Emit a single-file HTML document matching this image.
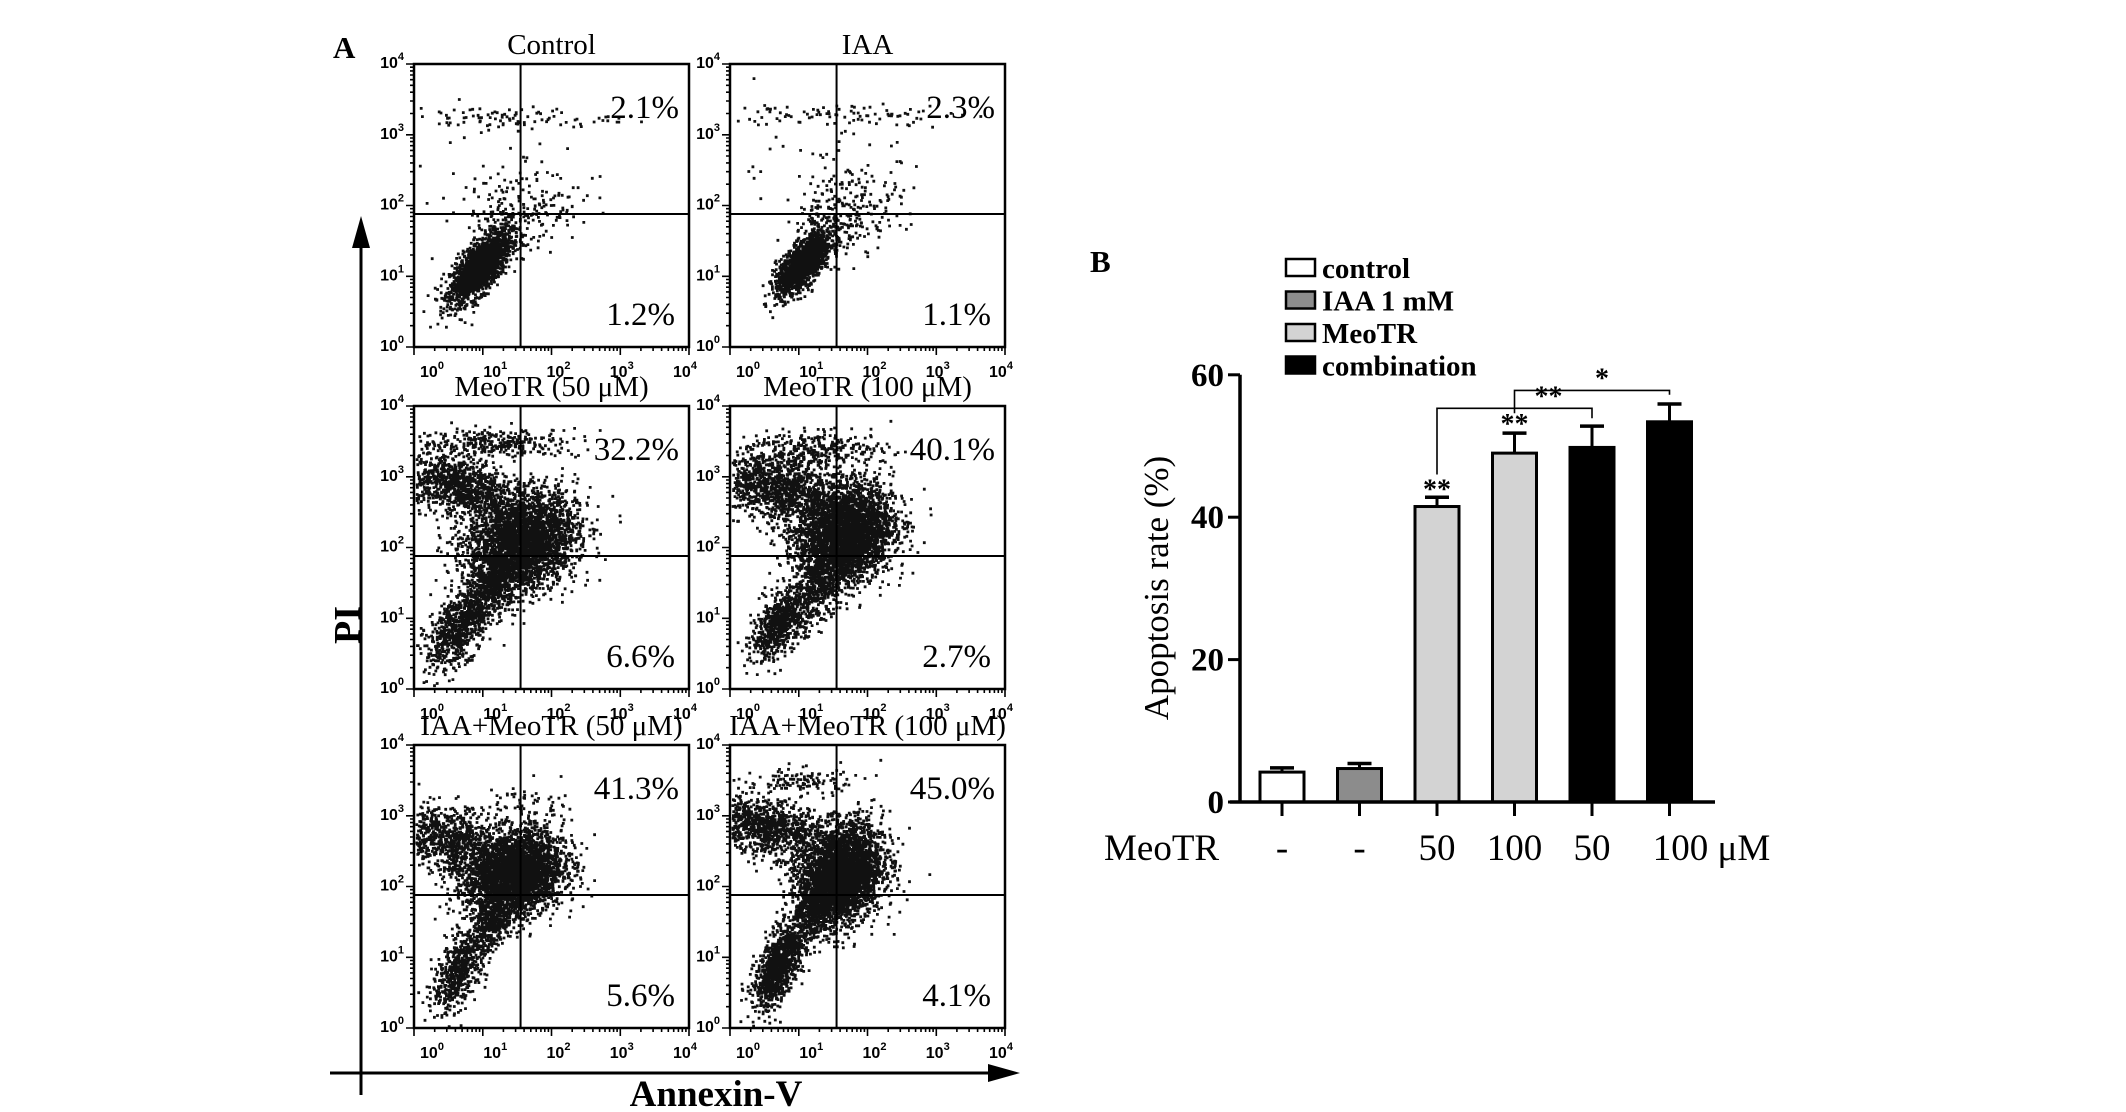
<!DOCTYPE html>
<html><head><meta charset="utf-8"><style>
html,body{margin:0;padding:0;background:#fff;}
svg{display:block;font-family:"Liberation Serif",serif;}
</style></head><body>
<svg id="fig" width="2126" height="1112" viewBox="0 0 2126 1112">
<g id="panelA"></g>
<g id="panelB"></g>
</svg>
<script>
// ---------- Panel B data ----------
const bCategories = ["-", "-", "50", "100", "50", "100 μM"];
const bValues = [4.2, 4.7, 41.5, 49.0, 49.8, 53.4];
const bErrors = [0.6, 0.7, 1.3, 2.8, 3.0, 2.5];
const bGroups = ["control", "IAA 1 mM", "MeoTR", "MeoTR", "combination", "combination"];
const bYTicks = [0, 20, 40, 60];
const legendLabels = ["control", "IAA 1 mM", "MeoTR", "combination"];
// ---------- Panel A data ----------
const aTitles = ["Control", "IAA", "MeoTR (50 μM)", "MeoTR (100 μM)", "IAA+MeoTR (50 μM)", "IAA+MeoTR (100 μM)"];
const aUpperRight = ["2.1%", "2.3%", "32.2%", "40.1%", "41.3%", "45.0%"];
const aLowerRight = ["1.2%", "1.1%", "6.6%", "2.7%", "5.6%", "4.1%"];
const aTickLabels = ["0", "1", "2", "3", "4"];
// clusters per panel: [centerLogX, centerLogY, sdX, sdY, corr, count]
const aClusters = [
  [[0.95,1.15,0.22,0.25,0.7,1800],[1.5,1.9,0.45,0.3,0.3,220],[1.3,3.25,0.8,0.08,0,90],[1.0,2.6,0.6,0.4,0,40]],
  [[1.05,1.2,0.2,0.22,0.7,1500],[1.7,1.95,0.4,0.3,0.3,250],[1.5,3.3,0.9,0.08,0,90],[1.2,2.6,0.7,0.4,0,40]],
  [[1.55,2.1,0.4,0.35,0.2,3200],[0.6,2.9,0.4,0.22,-0.3,1000],[0.65,0.9,0.25,0.3,0.6,800],[1.15,1.5,0.2,0.25,0.6,450],[1.2,3.5,0.6,0.1,0,300]],
  [[1.65,2.2,0.35,0.35,0.2,3400],[0.7,2.85,0.45,0.25,-0.3,1200],[0.7,0.95,0.2,0.25,0.6,700],[1.3,1.4,0.2,0.3,0.6,350],[1.3,3.4,0.5,0.12,0,300]],
  [[1.45,2.2,0.35,0.3,0.2,3200],[0.55,2.65,0.4,0.25,-0.3,900],[0.65,0.85,0.2,0.3,0.6,600],[1.15,1.5,0.15,0.2,0.5,350],[1.6,3.2,0.3,0.15,0,60]],
  [[1.6,2.2,0.3,0.35,0.2,3400],[0.5,2.85,0.4,0.2,-0.3,1000],[0.7,0.9,0.18,0.3,0.6,1000],[1.2,1.7,0.15,0.25,0.5,450],[1.0,3.5,0.4,0.1,0,120]]
];
const NS = "http://www.w3.org/2000/svg";
function mk(tag, attrs, parent, text) {
  const e = document.createElementNS(NS, tag);
  for (const k in attrs) e.setAttribute(k, attrs[k]);
  if (text !== undefined) e.textContent = text;
  parent.appendChild(e);
  return e;
}
let seed = 12345;
function rnd() { seed = (seed * 1103515245 + 12345) % 2147483648; return seed / 2147483648; }
function gauss() { let u = rnd() || 1e-9, v = rnd(); return Math.sqrt(-2 * Math.log(u)) * Math.cos(2 * Math.PI * v); }

// ---------- Panel A ----------
const A = document.getElementById("panelA");
const lblA = mk("text", {x: 333, y: 58, "font-size": 31, "font-weight": "bold"}, A, "A");


const colX = [414, 730];
const rowY = [64, 406, 745];
const boxW = 275, boxH = 283;
aTitles.forEach((t, i) => {
  const c = i % 2, r = Math.floor(i / 2);
  const x0 = colX[c], y0 = rowY[r];
  const g = mk("g", {}, A);
  
  
  const sx = v => x0 + v / 4 * boxW;
  const sy = v => y0 + boxH - v / 4 * boxH;
  const tt = mk("text", {x: x0 + boxW / 2, y: y0 - 10, "text-anchor": "middle", "font-size": 29}, g, t);
  
  
  let d = "";
  aClusters[i].forEach(cl => {
    const [cx, cy, sdx, sdy, rho, n] = cl;
    for (let k = 0; k < n; k++) {
      const a = gauss(), b = gauss();
      const lx = cx + sdx * a, ly = cy + sdy * (rho * a + Math.sqrt(1 - rho * rho) * b);
      if (lx < 0.02 || lx > 3.98 || ly < 0.02 || ly > 3.98) continue;
      d += "M" + sx(lx).toFixed(1) + " " + sy(ly).toFixed(1) + "h2.8v2.8h-2.8z";
    }
  });
  const pts = mk("path", {d: d, fill: "#111"}, g);
  
  
  const box = mk("rect", {x: x0, y: y0, width: boxW, height: boxH, fill: "none", stroke: "#000", "stroke-width": 2.5}, g);
  
  
  const qv = mk("line", {x1: sx(1.55), x2: sx(1.55), y1: y0, y2: y0 + boxH, stroke: "#000", "stroke-width": 2}, g);
  
  
  const qh = mk("line", {x1: x0, x2: x0 + boxW, y1: sy(1.88), y2: sy(1.88), stroke: "#000", "stroke-width": 2}, g);
  
  
  const ur = mk("text", {x: x0 + boxW - 10, y: y0 + 54, "text-anchor": "end", "font-size": 33}, g, aUpperRight[i]);
  
  
  const lr = mk("text", {x: x0 + boxW - 14, y: y0 + boxH - 22, "text-anchor": "end", "font-size": 33}, g, aLowerRight[i]);
  
  
  let md = "";
  for (let dec = 0; dec < 4; dec++) {
    for (let k = 1; k <= 9; k++) {
      const lv = dec + Math.log10(k);
      const len = k === 1 ? 8 : 4;
      md += `M${sx(lv).toFixed(1)} ${y0 + boxH}v${len}M${x0} ${sy(lv).toFixed(1)}h${-len}`;
    }
  }
  md += `M${sx(4)} ${y0 + boxH}v8M${x0} ${sy(4)}h-8`;
  const mt = mk("path", {d: md, stroke: "#000", "stroke-width": 1.6, fill: "none"}, g);
  
  
  aTickLabels.forEach((p, j) => {
    const xt = x0 + 18 + j * (boxW - 22) / 4;
    const tx = mk("text", {x: xt, y: y0 + boxH + 30, "text-anchor": "middle", "font-size": 16, "font-weight": "bold", "font-family": "Liberation Sans, sans-serif"}, g);
    
    
    mk("tspan", {}, tx, "10");
    mk("tspan", {dy: -8, "font-size": 11}, tx, p);
    const yt = y0 + boxH - j * boxH / 4;
    const ty = mk("text", {x: x0 - 10, y: yt + 4, "text-anchor": "end", "font-size": 16, "font-weight": "bold", "font-family": "Liberation Sans, sans-serif"}, g);
    
    
    mk("tspan", {}, ty, "10");
    mk("tspan", {dy: -8, "font-size": 11}, ty, p);
  });
});
const pa = mk("line", {x1: 361, y1: 1095, x2: 361, y2: 245, stroke: "#000", "stroke-width": 3}, A);


const ph = mk("polygon", {points: "361,216 352,248 370,248", fill: "#000"}, A);


const ha = mk("line", {x1: 330, y1: 1073, x2: 990, y2: 1073, stroke: "#000", "stroke-width": 3}, A);


const hh = mk("polygon", {points: "1020,1073 988,1064 988,1082", fill: "#000"}, A);


const pit = mk("text", {x: 0, y: 0, transform: "translate(360,625) rotate(-90)", "text-anchor": "middle", "font-size": 38, "font-weight": "bold"}, A, "PI");


const ant = mk("text", {x: 716, y: 1106, "text-anchor": "middle", "font-size": 37, "font-weight": "bold"}, A, "Annexin-V");



// ---------- Panel B ----------
const B = document.getElementById("panelB");
const bx0 = 1240, by0 = 802, pxPerUnit = 7.12;
const firstCenter = 1282, step = 77.5, barW = 44;
const yS = v => by0 - v * pxPerUnit;
const xS = i => firstCenter + i * step;
const fills = {"control": "#fff", "IAA 1 mM": "#8c8c8c", "MeoTR": "#d3d3d3", "combination": "#000"};
const lblB = mk("text", {x: 1090, y: 272, "font-size": 31, "font-weight": "bold"}, B, "B");


legendLabels.forEach((l, i) => {
  const y = 259 + i * 32.5;
  const sw = mk("rect", {x: 1286, y: y, width: 29, height: 17, fill: fills[l], stroke: "#000", "stroke-width": 2.5}, B);
  
  
  const tx = mk("text", {x: 1322, y: y + 19, "font-size": 29, "font-weight": "bold"}, B, l);
  
  
});
bValues.forEach((v, i) => {
  const cx = xS(i);
  const eb = mk("line", {x1: cx, x2: cx, y1: yS(v), y2: yS(v + bErrors[i]), stroke: "#000", "stroke-width": 3}, B);
  
  
  const ec = mk("line", {x1: cx - 12, x2: cx + 12, y1: yS(v + bErrors[i]), y2: yS(v + bErrors[i]), stroke: "#000", "stroke-width": 3.5}, B);
  
  
  const r = mk("rect", {x: cx - barW / 2, y: yS(v), width: barW, height: by0 - yS(v), fill: fills[bGroups[i]], stroke: "#000", "stroke-width": 3}, B);
  
  
  const tk = mk("line", {x1: cx, x2: cx, y1: by0, y2: by0 + 14, stroke: "#000", "stroke-width": 3}, B);
  
  
  const cl = mk("text", {x: i === 5 ? cx + 42 : cx, y: 860, "text-anchor": "middle", "font-size": 37}, B, bCategories[i]);
  
  
});
const yAx = mk("line", {x1: bx0, x2: bx0, y1: yS(60), y2: by0 + 1.5, stroke: "#000", "stroke-width": 3.5}, B);


const xAx = mk("line", {x1: bx0 - 10, x2: 1715, y1: by0, y2: by0, stroke: "#000", "stroke-width": 3.5}, B);


bYTicks.forEach(t => {
  const tk = mk("line", {x1: bx0 - 12, x2: bx0, y1: yS(t), y2: yS(t), stroke: "#000", "stroke-width": 3}, B);
  
  
  const tl = mk("text", {x: bx0 - 16, y: yS(t) + 11, "text-anchor": "end", "font-size": 33, "font-weight": "bold"}, B, String(t));
  
  
});
const yt = mk("text", {x: 0, y: 0, transform: "translate(1168,588) rotate(-90)", "text-anchor": "middle", "font-size": 35}, B, "Apoptosis rate (%)");


const mt = mk("text", {x: 1104, y: 860, "font-size": 37}, B, "MeoTR");


function star(x, v, s) {
  const t = mk("text", {x: x, y: yS(v), "text-anchor": "middle", "font-size": 28, "font-weight": "bold"}, B, s);
  
  
}
star(xS(2), 42.6, "**");
star(xS(3), 51.8, "**");
function bracket(i, j, yv, yl, yr, s, dx) {
  const y = yS(yv);
  const p = mk("polyline", {points: `${xS(i)},${yS(yl)} ${xS(i)},${y} ${xS(j)},${y} ${xS(j)},${yS(yr)}`, fill: "none", stroke: "#000", "stroke-width": 1.6}, B);
  
  
  const t = mk("text", {x: (xS(i) + xS(j)) / 2 + dx, y: y - 3, "text-anchor": "middle", "font-size": 28, "font-weight": "bold"}, B, s);
  
  
}
bracket(2, 4, 55.3, 46, 53.9, "**", 34);
bracket(3, 5, 57.8, 54.6, 57.2, "*", 10);
</script>
</body></html>
